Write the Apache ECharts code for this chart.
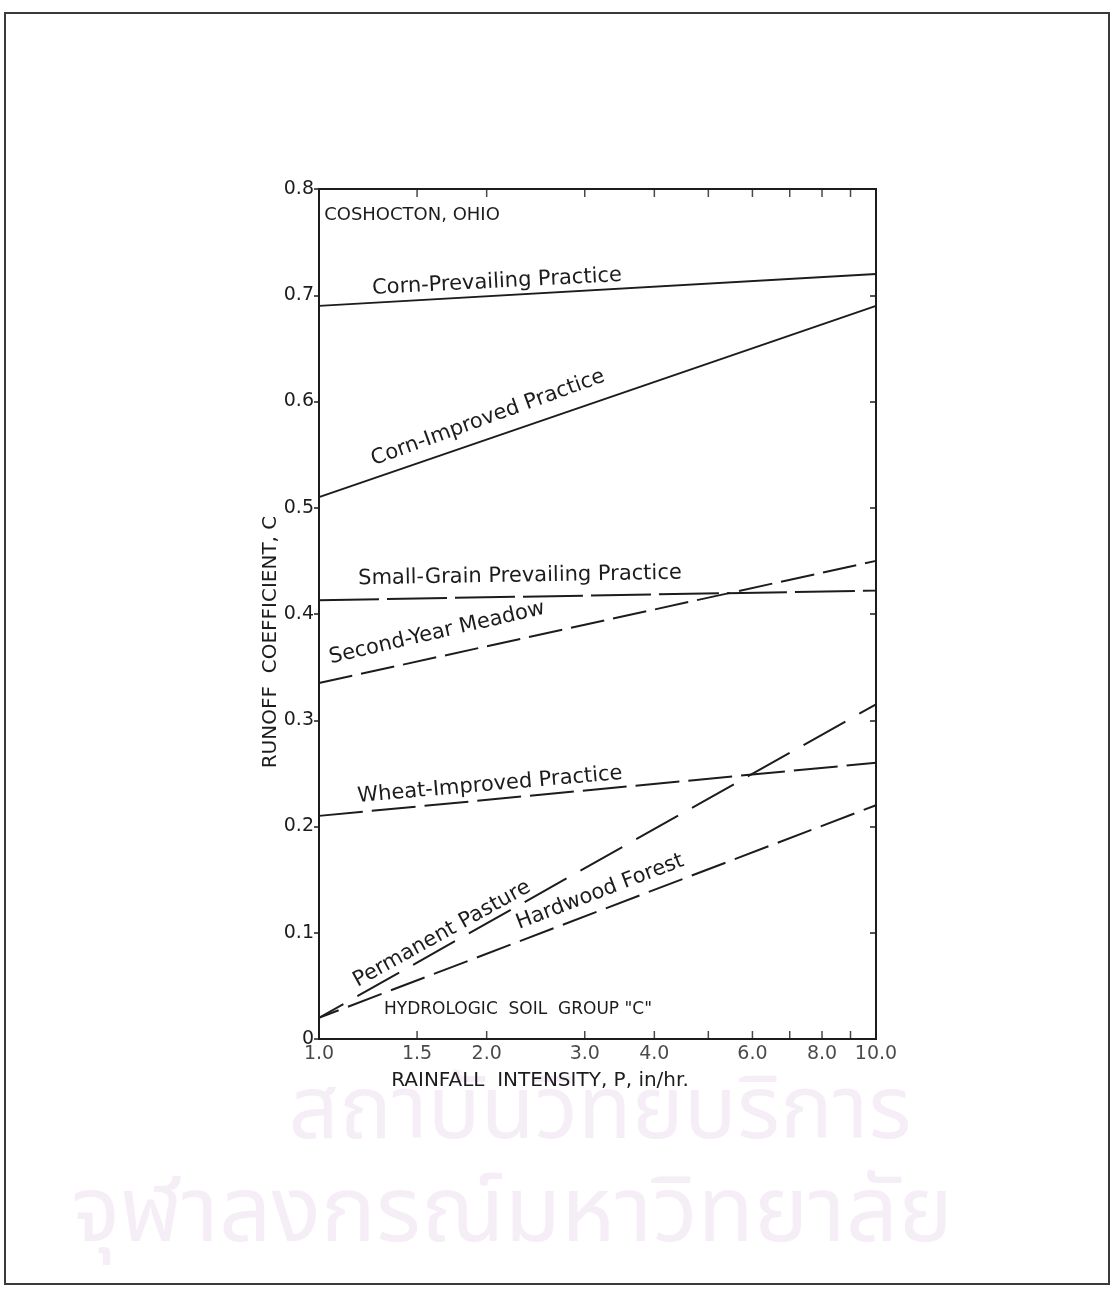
<!DOCTYPE html>
<html>
<head>
<meta charset="utf-8">
<script src="https://cdn.jsdelivr.net/npm/echarts@6/dist/echarts.min.js"></script>
<style>
  html, body { margin: 0; padding: 0; background: #fff; }
  #main { width: 1113px; height: 1289px; }
</style>
</head>
<body>
<div id="main"></div>
<script>
// rainfall intensity (in/hr) at both ends of each line
var intensity = [1, 10];
var cornPrevailing = [0.69, 0.72];
var cornImproved = [0.51, 0.69];
var smallGrain = [0.413, 0.422];
var secondYearMeadow = [0.335, 0.45];
var wheatImproved = [0.21, 0.26];
var permanentPasture = [0.02, 0.315];
var hardwoodForest = [0.02, 0.22];

// x tick labels and minor tick positions
var xLabelVals = [1, 1.5, 2, 3, 4, 6, 8, 10];
var xLabelText = ['1.0', '1.5', '2.0', '3.0', '4.0', '6.0', '8.0', '10.0'];
var xTickVals = [1.5, 2, 3, 4, 5, 6, 7, 8, 9];

var FONT = '"DejaVu Sans", sans-serif';
var INK = '#1c1c1c';

function pairs(ys) {
  return intensity.map(function (x, i) { return [x, ys[i]]; });
}

function lineSeries(name, ys, dash, offset) {
  return {
    name: name,
    type: 'line',
    data: pairs(ys),
    symbol: 'none',
    silent: true,
    lineStyle: { color: INK, width: 2, type: dash || 'solid', dashOffset: offset || 0 }
  };
}

function label(text, x, y, deg, size) {
  return {
    type: 'text',
    x: x,
    y: y,
    rotation: (deg || 0) * Math.PI / 180,
    style: {
      text: text,
      fill: INK,
      font: (size || 21) + 'px ' + FONT,
      align: 'center',
      verticalAlign: 'middle'
    }
  };
}

var myChart = echarts.init(document.getElementById('main'), null, { renderer: 'canvas' });

var option = {
  backgroundColor: '#ffffff',
  animation: false,
  grid: {
    left: 319,
    top: 189,
    width: 557,
    height: 850,
    show: true,
    borderColor: INK,
    borderWidth: 2,
    outerBoundsMode: 'none'
  },
  xAxis: {
    type: 'log',
    logBase: 10,
    min: 1,
    max: 10,
    axisLine: { show: true, lineStyle: { color: INK, width: 2 } },
    axisTick: { show: false },
    axisLabel: { show: false },
    splitLine: { show: false }
  },
  yAxis: [
    {
      type: 'value',
      min: 0,
      max: 0.8,
      interval: 0.1,
      axisLine: { show: true, lineStyle: { color: INK, width: 2 } },
      axisTick: { show: true, inside: false, length: 5, lineStyle: { color: INK, width: 1.5 } },
      axisLabel: {
        color: INK,
        fontSize: 19,
        fontFamily: FONT,
        margin: 5,
        formatter: function (v) { return v === 0 ? '0' : v.toFixed(1); }
      },
      splitLine: { show: false }
    },
    {
      type: 'value',
      position: 'right',
      min: 0,
      max: 0.8,
      interval: 0.1,
      axisLine: { show: true, lineStyle: { color: INK, width: 2 } },
      axisTick: { show: true, inside: true, length: 6, lineStyle: { color: INK, width: 1.5 } },
      axisLabel: { show: false },
      splitLine: { show: false }
    }
  ],
  series: [
    lineSeries('Corn-Prevailing Practice', cornPrevailing),
    lineSeries('Corn-Improved Practice', cornImproved),
    lineSeries('Small-Grain Prevailing Practice', smallGrain, [60, 8]),
    lineSeries('Second-Year Meadow', secondYearMeadow, [34, 9]),
    lineSeries('Wheat-Improved Practice', wheatImproved, [44, 9]),
    lineSeries('Permanent Pasture', permanentPasture, [48, 16], 20),
    lineSeries('Hardwood Forest', hardwoodForest, [36, 10], 15),
    {
      // bottom minor ticks (inward)
      type: 'scatter',
      data: xTickVals.map(function (v) { return [v, 0]; }),
      symbol: 'rect',
      symbolSize: [1.5, 8],
      symbolOffset: [0, -4],
      itemStyle: { color: INK },
      silent: true,
      clip: false
    },
    {
      // top minor ticks (inward)
      type: 'scatter',
      data: xTickVals.map(function (v) { return [v, 0.8]; }),
      symbol: 'rect',
      symbolSize: [1.5, 8],
      symbolOffset: [0, 4],
      itemStyle: { color: INK },
      silent: true,
      clip: false
    },
    {
      // x tick labels
      type: 'scatter',
      data: xLabelVals.map(function (v, i) { return { value: [v, 0], name: xLabelText[i] }; }),
      symbolSize: 1,
      itemStyle: { color: 'rgba(0,0,0,0)' },
      silent: true,
      clip: false,
      label: {
        show: true,
        position: 'bottom',
        distance: 5,
        color: INK,
        fontSize: 19,
        fontFamily: FONT,
        formatter: function (p) { return p.name; }
      }
    }
  ],
  graphic: [
    {
      type: 'rect',
      z: -10,
      shape: { x: 5, y: 13, width: 1104, height: 1271 },
      style: { fill: null, stroke: '#3a3a3a', lineWidth: 2 }
    },
    {
      type: 'text', x: 600, y: 1120, z: -5,
      style: { text: 'สถาบันวิทยบริการ', fill: '#f6eef6', font: '88px "Noto Sans Thai", "Noto Sans", sans-serif', align: 'center', verticalAlign: 'middle' }
    },
    {
      type: 'text', x: 512, y: 1222, z: -5,
      style: { text: 'จุฬาลงกรณ์มหาวิทยาลัย', fill: '#f6eef6', font: '92px "Noto Sans Thai", "Noto Sans", sans-serif', align: 'center', verticalAlign: 'middle' }
    },
    label('COSHOCTON, OHIO', 412, 215, 0, 18),
    label('Corn-Prevailing Practice', 497, 282, 3),
    label('Corn-Improved Practice', 488, 418, 20),
    label('Small-Grain Prevailing Practice', 520, 576, 1),
    label('Second-Year Meadow', 437, 633, 13),
    label('Wheat-Improved Practice', 490, 785, 5),
    label('Permanent Pasture', 442, 934, 29),
    label('Hardwood Forest', 600, 892, 21),
    label('HYDROLOGIC  SOIL  GROUP "C"', 518, 1010, 0, 17),
    label('RUNOFF  COEFFICIENT, C', 271, 642, 90, 20),
    label('RAINFALL  INTENSITY, P, in/hr.', 540, 1081, 0, 20)
  ]
};

myChart.setOption(option);
</script>
</body>
</html>
